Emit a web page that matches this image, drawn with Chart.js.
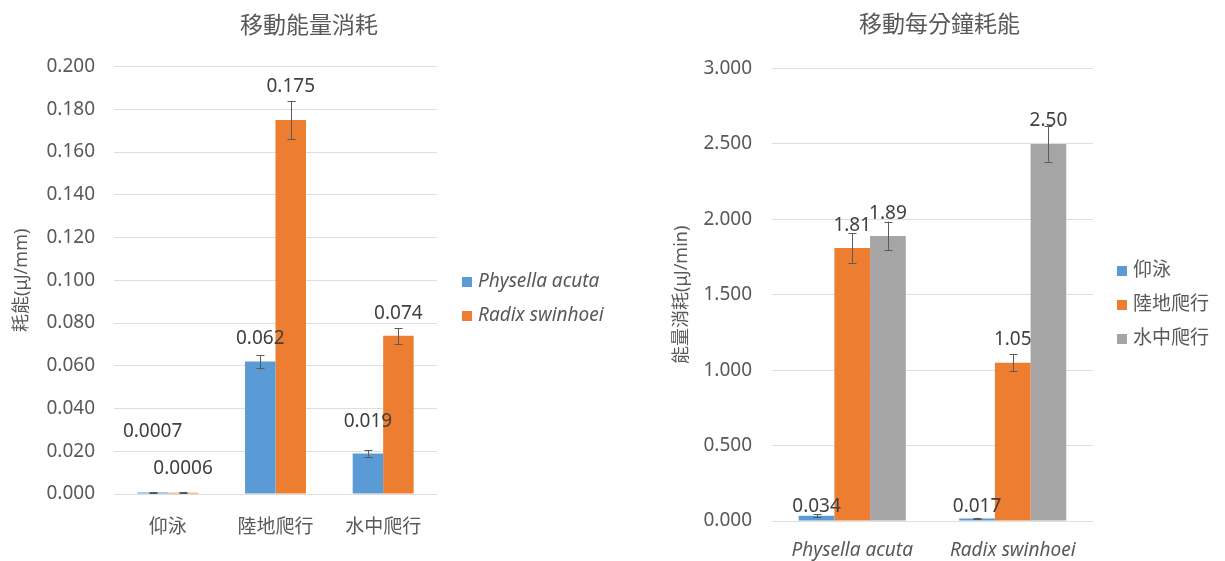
<!DOCTYPE html>
<html>
<head>
<meta charset="utf-8">
<script src="https://cdn.jsdelivr.net/npm/chart.js@4.4.1/dist/chart.umd.min.js"></script>
<style>
  html, body { margin: 0; padding: 0; background: #ffffff; }
  #wrap { position: relative; width: 1225px; height: 561px; overflow: hidden; }
  #box1 { position: absolute; left: 0; top: 0; width: 618px; height: 561px; }
  #box2 { position: absolute; left: 654px; top: 0; width: 571px; height: 561px; }
</style>
</head>
<body>
<div id="wrap">
  <div id="box1"><canvas id="c1" width="618" height="561"></canvas></div>
  <div id="box2"><canvas id="c2" width="571" height="561"></canvas></div>
</div>
<script>
// ---------- Data: left chart (移動能量消耗) ----------
const leftTitle = '移動能量消耗';
const leftAxisTitle = '耗能(μJ/mm)';
const leftCategories = ['仰泳', '陸地爬行', '水中爬行'];
const leftSeriesNames = ['Physella acuta', 'Radix swinhoei'];
const physellaEnergy = [0.0007, 0.062, 0.019];
const radixEnergy = [0.0006, 0.175, 0.074];
const physellaEnergyErr = [0.0003, 0.003, 0.0016];
const radixEnergyErr = [0.0002, 0.009, 0.0037];
const leftTickLabels = ['0.000', '0.020', '0.040', '0.060', '0.080', '0.100', '0.120', '0.140', '0.160', '0.180', '0.200'];

// ---------- Data: right chart (移動每分鐘耗能) ----------
const rightTitle = '移動每分鐘耗能';
const rightAxisTitle = '能量消耗(μJ/min)';
const rightCategories = ['Physella acuta', 'Radix swinhoei'];
const rightSeriesNames = ['仰泳', '陸地爬行', '水中爬行'];
const backswimRate = [0.034, 0.017];
const landCrawlRate = [1.81, 1.05];
const waterCrawlRate = [1.89, 2.50];
const backswimRateErr = [0.010, 0.005];
const landCrawlRateErr = [0.097, 0.057];
const waterCrawlRateErr = [0.095, 0.117];
const rightTickLabels = ['0.000', '0.500', '1.000', '1.500', '2.000', '2.500', '3.000'];

// ---------- Styles ----------
const BLUE = '#5B9BD5', ORANGE = '#ED7D31', GRAY = '#A5A5A5';
const TEXT = '#595959', LABEL = '#404040', GRID = '#DEDEDE';
const FAMILY = '"Noto Sans", "Noto Sans CJK TC", sans-serif';

// ---------- Plugins ----------
const errorBarPlugin = {
  id: 'errorBars',
  afterDatasetsDraw(chart, args, opts) {
    const ctx = chart.ctx, ys = chart.scales.y;
    ctx.save();
    ctx.strokeStyle = opts.color || '#595959';
    ctx.lineWidth = 1;
    chart.data.datasets.forEach((ds, i) => {
      const meta = chart.getDatasetMeta(i);
      meta.data.forEach((bar, j) => {
        const v = ds.data[j], e = ds.errors[j];
        const top = ys.getPixelForValue(v + e);
        const bot = ys.getPixelForValue(Math.max(0, v - e));
        const x = Math.round(bar.x) + 0.5, w = opts.cap || 4;
        ctx.beginPath();
        ctx.moveTo(x, top); ctx.lineTo(x, bot);
        ctx.moveTo(x - w, Math.round(top) + 0.5); ctx.lineTo(x + w, Math.round(top) + 0.5);
        ctx.moveTo(x - w, Math.round(bot) + 0.5); ctx.lineTo(x + w, Math.round(bot) + 0.5);
        ctx.stroke();
      });
    });
    ctx.restore();
  }
};

const valueLabelPlugin = {
  id: 'valueLabels',
  afterDatasetsDraw(chart, args, opts) {
    const ctx = chart.ctx, ys = chart.scales.y;
    ctx.save();
    ctx.font = opts.font;
    ctx.fillStyle = opts.color;
    ctx.textAlign = 'center';
    ctx.textBaseline = 'middle';
    chart.data.datasets.forEach((ds, i) => {
      const meta = chart.getDatasetMeta(i);
      meta.data.forEach((bar, j) => {
        const v = ds.data[j];
        const off = opts.offsets[i][j];
        ctx.fillText(opts.format(v), bar.x, ys.getPixelForValue(v) - off);
      });
    });
    ctx.restore();
  }
};

const sideLegendPlugin = {
  id: 'sideLegend',
  afterDraw(chart, args, opts) {
    const ctx = chart.ctx;
    ctx.save();
    ctx.textAlign = 'left';
    ctx.textBaseline = 'middle';
    ctx.font = opts.font;
    chart.data.datasets.forEach((ds, i) => {
      const y = opts.y0 + i * opts.gap;
      ctx.fillStyle = ds.backgroundColor;
      ctx.fillRect(opts.x, Math.round(y - 5), 10, 10);
      ctx.fillStyle = opts.color;
      ctx.fillText(ds.label, opts.x + 16, y);
    });
    ctx.restore();
  }
};

function tickCallbackFrom(labels, step) {
  return (v) => {
    const idx = Math.round(v / step);
    return labels[idx] !== undefined ? labels[idx] : '';
  };
}

// ---------- Left chart ----------
new Chart(document.getElementById('c1'), {
  type: 'bar',
  data: {
    labels: leftCategories,
    datasets: [
      { label: leftSeriesNames[0], data: physellaEnergy, errors: physellaEnergyErr, backgroundColor: BLUE, yAxisID: 'y' },
      { label: leftSeriesNames[1], data: radixEnergy, errors: radixEnergyErr, backgroundColor: ORANGE, yAxisID: 'y' }
    ]
  },
  plugins: [errorBarPlugin, valueLabelPlugin, sideLegendPlugin],
  options: {
    responsive: false,
    animation: false,
    devicePixelRatio: 1,
    layout: { padding: 0 },
    datasets: { bar: { categoryPercentage: 0.566, barPercentage: 1.0 } },
    scales: {
      x: {
        grid: { display: false },
        border: { display: false },
        ticks: { color: TEXT, font: { family: FAMILY, size: 19 }, padding: 14, maxRotation: 0 },
        afterFit: (s) => { s.height = 67; }
      },
      y: {
        position: 'left',
        min: 0, max: 0.2,
        ticks: { stepSize: 0.02, color: TEXT, font: { family: FAMILY, size: 19 }, padding: 19,
                 callback: tickCallbackFrom(leftTickLabels, 0.02) },
        grid: { color: GRID, drawTicks: false, lineWidth: 1 },
        border: { display: false },
        title: { display: true, text: leftAxisTitle, color: TEXT, font: { family: FAMILY, size: 18 }, padding: { top: 11, bottom: 0 } },
        afterFit: (s) => { s.width = 114; }
      },
      y2: {
        position: 'right',
        display: true,
        grid: { display: false, drawTicks: false },
        border: { display: false },
        ticks: { display: false },
        afterFit: (s) => { s.width = 181; }
      }
    },
    plugins: {
      legend: { display: false },
      tooltip: { enabled: false },
      title: {
        display: true, text: leftTitle, color: TEXT,
        font: { family: FAMILY, size: 23, weight: 'normal' },
        padding: { top: 13, bottom: 26 }
      },
      errorBars: { color: '#5a5a5a', cap: 4 },
      valueLabels: {
        font: '19px ' + FAMILY, color: LABEL,
        format: (v) => String(v),
        offsets: [[61, 23, 32], [24, 33, 22]]
      },
      sideLegend: { x: 462, y0: 282, gap: 34, font: 'italic 19px ' + FAMILY, color: TEXT }
    }
  }
});

// ---------- Right chart ----------
new Chart(document.getElementById('c2'), {
  type: 'bar',
  data: {
    labels: rightCategories,
    datasets: [
      { label: rightSeriesNames[0], data: backswimRate, errors: backswimRateErr, backgroundColor: BLUE, yAxisID: 'y' },
      { label: rightSeriesNames[1], data: landCrawlRate, errors: landCrawlRateErr, backgroundColor: ORANGE, yAxisID: 'y' },
      { label: rightSeriesNames[2], data: waterCrawlRate, errors: waterCrawlRateErr, backgroundColor: GRAY, yAxisID: 'y' }
    ]
  },
  plugins: [errorBarPlugin, valueLabelPlugin, sideLegendPlugin],
  options: {
    responsive: false,
    animation: false,
    devicePixelRatio: 1,
    layout: { padding: 0 },
    datasets: { bar: { categoryPercentage: 0.667, barPercentage: 1.0 } },
    scales: {
      x: {
        grid: { display: false },
        border: { display: false },
        ticks: { color: TEXT, font: { family: FAMILY, size: 19, style: 'italic' }, padding: 10, maxRotation: 0 },
        afterFit: (s) => { s.height = 40; }
      },
      y: {
        position: 'left',
        min: 0, max: 3,
        ticks: { stepSize: 0.5, color: TEXT, font: { family: FAMILY, size: 19 }, padding: 20,
                 callback: tickCallbackFrom(rightTickLabels, 0.5) },
        grid: { color: GRID, drawTicks: false, lineWidth: 1 },
        border: { display: false },
        title: { display: true, text: rightAxisTitle, color: TEXT, font: { family: FAMILY, size: 18 }, padding: { top: 17, bottom: 0 } },
        afterFit: (s) => { s.width = 118; }
      },
      y2: {
        position: 'right',
        display: true,
        grid: { display: false, drawTicks: false },
        border: { display: false },
        ticks: { display: false },
        afterFit: (s) => { s.width = 132; }
      }
    },
    plugins: {
      legend: { display: false },
      tooltip: { enabled: false },
      title: {
        display: true, text: rightTitle, color: TEXT,
        font: { family: FAMILY, size: 23, weight: 'normal' },
        padding: { top: 12, bottom: 29 }
      },
      errorBars: { color: '#5a5a5a', cap: 4 },
      valueLabels: {
        font: '19px ' + FAMILY, color: LABEL,
        format: (v) => (v >= 1 ? v.toFixed(2) : String(v)),
        offsets: [[9, 12], [22, 23], [22, 23]]
      },
      sideLegend: { x: 463, y0: 271, gap: 34, font: '19px ' + FAMILY, color: TEXT }
    }
  }
});
</script>
</body>
</html>
